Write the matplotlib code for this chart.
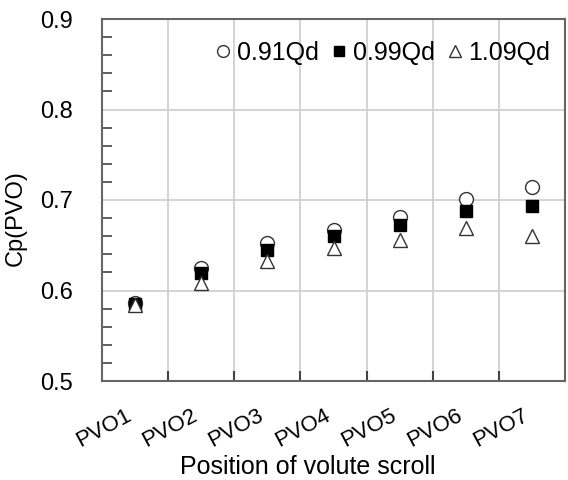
import numpy as np
import matplotlib.pyplot as plt
from matplotlib.ticker import MultipleLocator

plt.rcParams['font.family'] = ['Liberation Sans', 'DejaVu Sans']

# Datos
posiciones = ["PVO1", "PVO2", "PVO3", "PVO4", "PVO5", "PVO6", "PVO7"]
cp_091 = [0.586, 0.625, 0.652, 0.667, 0.681, 0.701, 0.714]
cp_099 = [0.585, 0.619, 0.645, 0.660, 0.672, 0.688, 0.693]
cp_109 = [0.584, 0.608, 0.633, 0.647, 0.656, 0.669, 0.660]

x = np.arange(1, len(posiciones) + 1)

fig = plt.figure(figsize=(5.68, 4.8), dpi=100)
ax = fig.add_axes([102 / 568, 1 - 381 / 480, 463 / 568, 362 / 480])

ax.plot(x, cp_091, 'o', ms=10, mfc='white', mec='#333333', mew=1.0, label='0.91Qd')
ax.plot(x, cp_099, 's', ms=8.5, mfc='black', mec='black', label='0.99Qd')
ax.plot(x, cp_109, '^', ms=10.5, mfc='white', mec='#333333', mew=1.0, label='1.09Qd')

ax.set_xlim(0.5, 7.5)
ax.set_ylim(0.5, 0.9)

# Eje y
ax.yaxis.set_minor_locator(MultipleLocator(0.02))
ax.set_yticks(np.arange(0.5, 0.91, 0.1))
ax.set_yticklabels(["0.5", "0.6", "0.7", "0.8", "0.9"])

# Eje x: lineas en los bordes, etiquetas al centro
ax.set_xticks(np.arange(1.5, 7.5, 1))
ax.set_xticklabels([])
ax.set_xticks(x, minor=True)
ax.set_xticklabels(posiciones, minor=True, rotation=28, ha='right', fontsize=16)
ax.tick_params(axis='x', which='minor', length=0, pad=17)
ax.tick_params(axis='x', which='major', direction='in', length=7, width=1.5, color='#444444')
ax.tick_params(axis='y', which='both', direction='in', color='#444444', width=1.2)
ax.tick_params(axis='y', which='major', length=0, labelsize=17, pad=21)
ax.tick_params(axis='y', which='minor', length=7)

ax.grid(True, which='major', color='#d0d0d0', linewidth=1.3)
ax.set_axisbelow(True)
for s in ax.spines.values():
    s.set_color('#666666')
    s.set_linewidth(1.5)

ax.set_xlabel("Position of volute scroll", fontsize=18)
ax.xaxis.set_label_coords(0.445, -0.205)
ax.set_ylabel("Cp(PVO)", fontsize=17)
ax.yaxis.set_label_coords(-0.162, 0.45)

ax.legend(loc='center right', ncol=3, frameon=False, fontsize=18, handletextpad=0.05,
          columnspacing=0.3, handlelength=1.0, markerscale=0.85, borderaxespad=0.0,
          bbox_to_anchor=(0.99, 0.906))

fig.savefig("out.png", dpi=100)
